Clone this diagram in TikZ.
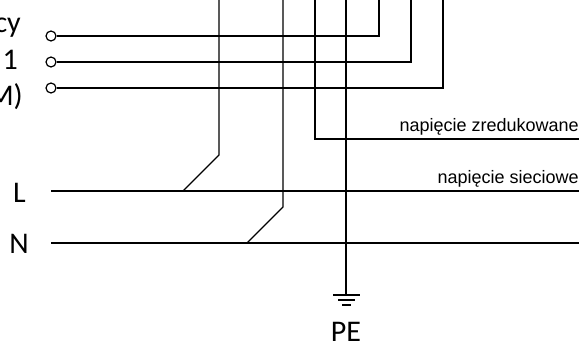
\documentclass[tikz,border=0pt]{standalone}
\usepackage{fontspec}
\setmainfont{Carlito}
\newfontfamily\smallsans{Liberation Sans}
\begin{document}
\begin{tikzpicture}[x=1pt,y=-1pt,
  wire/.style={line width=1.4pt,black,line join=miter},
  terminal/.style={circle,draw=black,line width=1.2pt,minimum size=10pt,inner sep=0pt,fill=white},
  biglabel/.style={font=\fontsize{30}{30}\selectfont,inner sep=0pt,anchor=base east,text=black},
  smalllabel/.style={font=\smallsans\fontsize{18}{18}\selectfont,inner sep=0pt,anchor=base east,text=black}]
\useasboundingbox (0,0) rectangle (584,351);
% free wire ends
\coordinate (t1) at (219,0);
\coordinate (t2) at (283,0);
\coordinate (t3) at (315,0);
\coordinate (t4) at (346,0);
\coordinate (t5) at (379,0);
\coordinate (t6) at (411,0);
\coordinate (t7) at (443,0);
\coordinate (b1) at (219,155);
\coordinate (b2) at (283,207);
\coordinate (b3) at (315,139);
\coordinate (e3) at (579,139);
\coordinate (j1) at (183,191);
\coordinate (j2) at (247,243);
\coordinate (Ls) at (51,191);
\coordinate (Le) at (579,191);
\coordinate (Ns) at (51,243);
\coordinate (Ne) at (579,243);
\coordinate (g0) at (346,295);
\coordinate (g1l) at (333,295);
\coordinate (g1r) at (360,295);
\coordinate (g2l) at (338,300);
\coordinate (g2r) at (355,300);
\coordinate (g3l) at (342,305);
\coordinate (g3r) at (351,305);
% terminals
\node[terminal] (a) at (51,36) {};
\node[terminal] (b) at (51,62) {};
\node[terminal] (c) at (51,88) {};
% wires
\draw[wire] (a.east) -| (t5);
\draw[wire] (b.east) -| (t6);
\draw[wire] (c.east) -| (t7);
\draw[wire] (t1) -- (b1) -- (j1);
\draw[wire] (t2) -- (b2) -- (j2);
\draw[wire] (t3) -- (b3) -- (e3);
\draw[wire] (t4) -- (g0);
\draw[wire] (Ls) -- (Le);
\draw[wire] (Ns) -- (Ne);
\draw[wire] (g1l) -- (g1r);
\draw[wire] (g2l) -- (g2r);
\draw[wire] (g3l) -- (g3r);
% labels
\node[biglabel] (l1) at (21,32) {cy};
\node[biglabel] (l2) at (18,69) {1};
\node[biglabel] (l3) at (23,105) {M)};
\node[biglabel] (lL) at (26,202) {L};
\node[biglabel] (lN) at (29,253) {N};
\node[biglabel,anchor=base] (lPE) at (346,341) {PE};
\node[smalllabel] (s1) at (579,131) {napięcie zredukowane};
\node[smalllabel] (s2) at (579,183) {napięcie sieciowe};
\end{tikzpicture}
\end{document}
